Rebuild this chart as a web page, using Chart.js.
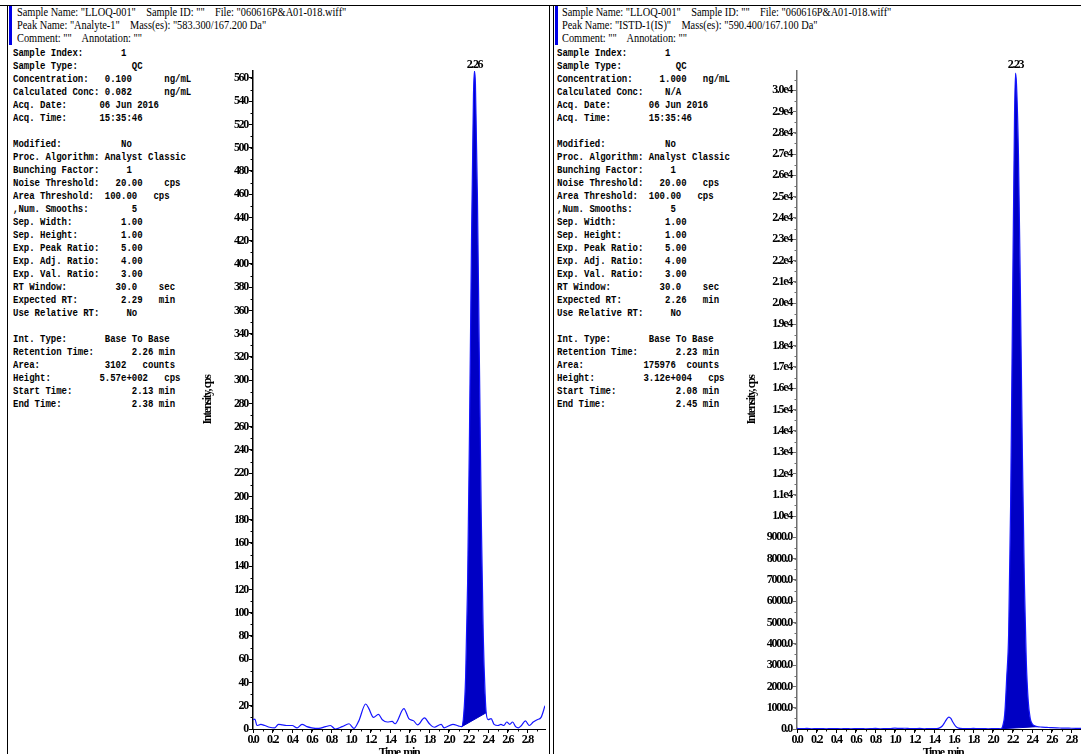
<!DOCTYPE html>
<html>
<head>
<meta charset="utf-8">
<script src="https://cdn.jsdelivr.net/npm/chart.js@4.4.1/dist/chart.umd.min.js"></script>
<style>
  html, body { margin: 0; padding: 0; background: #fff; }
  body { width: 1081px; height: 754px; overflow: hidden; position: relative; }
  .rule { position: absolute; background: #000; }
  .bar { position: absolute; background: #0000e6; }
  .hdr {
    position: absolute; margin: 0;
    font-family: 'Liberation Serif', 'Times New Roman', serif;
    font-size: 11.5px; line-height: 13px; white-space: pre; color: #000;
    transform: scaleX(0.9); transform-origin: 0 0;
  }
  .params {
    position: absolute; margin: 0;
    font-family: 'Liberation Mono', 'Courier New', monospace;
    font-weight: bold; font-size: 10px; line-height: 13px; white-space: pre; color: #000;
    transform: scaleX(0.9); transform-origin: 0 0;
  }
  canvas { position: absolute; }
</style>
</head>
<body>
<!-- report frame -->
<div class="rule" style="left:0;top:5px;width:1081px;height:1px"></div>
<div class="rule" style="left:7px;top:5px;width:1px;height:749px"></div>
<div class="rule" style="left:549px;top:5px;width:1px;height:749px"></div>
<div class="rule" style="left:553px;top:5px;width:1px;height:749px"></div>
<div class="bar" style="left:9px;top:6px;width:3px;height:39px"></div>
<div class="bar" style="left:555px;top:6px;width:3px;height:39px"></div>

<pre class="hdr" style="left:17px;top:6px">Sample Name: "LLOQ-001"    Sample ID: ""    File: "060616P&amp;A01-018.wiff"
Peak Name: "Analyte-1"    Mass(es): "583.300/167.200 Da"
Comment: ""    Annotation: ""</pre>

<pre class="hdr" style="left:562px;top:6px">Sample Name: "LLOQ-001"    Sample ID: ""    File: "060616P&amp;A01-018.wiff"
Peak Name: "ISTD-1(IS)"    Mass(es): "590.400/167.100 Da"
Comment: ""    Annotation: ""</pre>

<pre class="params" style="left:13px;top:47px">Sample Index:       1
Sample Type:          QC
Concentration:   0.100      ng/mL
Calculated Conc: 0.082      ng/mL
Acq. Date:      06 Jun 2016
Acq. Time:      15:35:46

Modified:           No
Proc. Algorithm: Analyst Classic
Bunching Factor:     1
Noise Threshold:   20.00    cps
Area Threshold:  100.00   cps
,Num. Smooths:        5
Sep. Width:         1.00
Sep. Height:        1.00
Exp. Peak Ratio:    5.00
Exp. Adj. Ratio:    4.00
Exp. Val. Ratio:    3.00
RT Window:         30.0    sec
Expected RT:        2.29   min
Use Relative RT:     No

Int. Type:       Base To Base
Retention Time:       2.26 min
Area:            3102   counts
Height:         5.57e+002   cps
Start Time:           2.13 min
End Time:             2.38 min</pre>

<pre class="params" style="left:557px;top:47px">Sample Index:       1
Sample Type:          QC
Concentration:     1.000   ng/mL
Calculated Conc:    N/A
Acq. Date:       06 Jun 2016
Acq. Time:       15:35:46

Modified:           No
Proc. Algorithm: Analyst Classic
Bunching Factor:     1
Noise Threshold:   20.00   cps
Area Threshold:  100.00   cps
,Num. Smooths:       5
Sep. Width:         1.00
Sep. Height:        1.00
Exp. Peak Ratio:    5.00
Exp. Adj. Ratio:    4.00
Exp. Val. Ratio:    3.00
RT Window:         30.0    sec
Expected RT:        2.26   min
Use Relative RT:     No

Int. Type:       Base To Base
Retention Time:       2.23 min
Area:           175976  counts
Height:         3.12e+004   cps
Start Time:           2.08 min
End Time:             2.45 min</pre>

<canvas id="chartAnalyte" width="355" height="720" style="left:195px;top:55px"></canvas>
<canvas id="chartISTD" width="354" height="720" style="left:740px;top:55px"></canvas>

<script>
// ---- Analyte-1 (583.3/167.2) extracted ion chromatogram ----
const analyteTime = [0.00,0.02,0.04,0.08,0.12,0.17,0.22,0.26,0.30,0.34,0.40,0.45,0.50,0.55,0.60,0.67,0.74,0.79,0.84,0.91,0.98,1.03,1.08,1.15,1.18,1.23,1.28,1.32,1.37,1.42,1.45,1.54,1.59,1.64,1.68,1.75,1.80,1.85,1.92,1.95,2.04,2.10,2.13,2.15,2.17,2.19,2.21,2.23,2.25,2.26,2.27,2.29,2.31,2.33,2.35,2.37,2.38,2.40,2.43,2.46,2.50,2.53,2.56,2.59,2.62,2.65,2.68,2.71,2.74,2.78,2.82,2.86,2.90,2.94,2.98];
const analyteIntensity = [8,8.5,3,4,3,1.5,1,4,3.5,3,3,1,4,2,1,0.5,2,3,0,2,4.5,0.5,7,21.5,18,10,12.5,8,6,6.5,4.5,17.5,9,7,3.5,9.5,4.5,1.5,4,1,4,2.5,2,12,45,125,260,420,545,566,555,460,320,180,80,28,14,8,9,4,3,4,3,6,4,6,2,1,3,7,3,6,8,10,20];
const analytePeak = { rt: 2.26, start: 2.13, end: 2.38 };
const analyteBaseline = [2, 14];          // integration baseline at start / end
const analyteAxisMax = 566;

// ---- ISTD-1(IS) (590.4/167.1) extracted ion chromatogram ----
const istdTime = [0.00,0.05,0.10,0.15,0.20,0.25,0.30,0.35,0.40,0.45,0.50,0.55,0.60,0.65,0.70,0.75,0.80,0.85,0.90,0.95,1.00,1.05,1.10,1.15,1.20,1.25,1.30,1.35,1.40,1.45,1.48,1.51,1.53,1.55,1.57,1.59,1.62,1.65,1.70,1.75,1.80,1.85,1.90,1.95,2.00,2.04,2.08,2.10,2.12,2.14,2.16,2.18,2.20,2.22,2.23,2.24,2.26,2.28,2.30,2.32,2.34,2.36,2.38,2.40,2.42,2.45,2.50,2.55,2.60,2.65,2.70,2.75,2.80,2.85,2.90,2.95,2.98];
const istdIntensity = [30,15,25,10,20,15,10,20,15,10,20,10,15,20,10,15,25,10,15,20,40,25,35,20,15,25,10,20,15,40,130,330,480,560,500,330,120,40,20,15,25,15,20,10,15,20,10,150,700,2400,4500,10500,20000,28800,30800,30300,27000,20500,13000,7000,3200,1300,500,250,160,110,90,75,60,50,45,40,35,30,25,22,20];
const istdPeak = { rt: 2.23, start: 2.08, end: 2.45 };
const istdBaseline = [10, 110];
const istdAxisMax = 30900;

const timeMax = 2.98;
const timeStep = 0.2;

const TICK_FONT = { family: "'Liberation Serif', 'Times New Roman', serif", size: 12, weight: 'bold' };
const TITLE_FONT = { family: "'Liberation Serif', 'Times New Roman', serif", size: 12, weight: 'bold' };

// condensed report lettering for everything drawn on the canvas
const condensedText = {
  id: 'condensedText',
  beforeDraw(chart) { chart.ctx.letterSpacing = '-1.3px'; }
};

// labelled ticks on exact multiples of the step, never stretched to the axis end
function evenTicks(step) {
  return function (scale) {
    const out = [];
    for (let i = 0; i * step <= scale.max + 1e-9; i++) out.push({ value: +(i * step).toFixed(6) });
    scale.ticks = out;
  };
}

// short unlabeled ticks between the labelled ones
const minorTicks = {
  id: 'minorTicks',
  afterDraw(chart, args, opts) {
    const { ctx } = chart;
    const xs = chart.scales.x, ys = chart.scales.y;
    ctx.save();
    ctx.lineWidth = 1;
    ctx.beginPath();
    ctx.strokeStyle = opts.yColor;
    for (let i = 0; i * opts.yStep <= ys.max + 1e-9; i++) {
      const py = Math.round(ys.getPixelForValue(i * opts.yStep)) + 0.5;
      ctx.moveTo(ys.right - 2.5, py); ctx.lineTo(ys.right, py);
    }
    ctx.stroke();
    ctx.beginPath();
    ctx.strokeStyle = '#000';
    for (let i = 0; i * opts.xStep <= xs.max + 1e-9; i++) {
      const px = Math.round(xs.getPixelForValue(i * opts.xStep)) + 0.5;
      ctx.moveTo(px, xs.top); ctx.lineTo(px, xs.top + 2.5);
    }
    ctx.stroke();
    ctx.restore();
  }
};

// retention-time label above the apex
const peakLabel = {
  id: 'peakLabel',
  afterDatasetsDraw(chart, args, opts) {
    const { ctx, chartArea } = chart;
    const x = chart.scales.x.getPixelForValue(opts.rt);
    ctx.save();
    ctx.font = "bold 12px 'Liberation Serif', 'Times New Roman', serif";
    ctx.letterSpacing = '-1.4px';
    ctx.fillStyle = '#000';
    ctx.textAlign = 'center';
    ctx.textBaseline = 'middle';
    ctx.fillText(opts.rt.toFixed(2), x, chartArea.top - 6);
    ctx.restore();
  }
};

function buildChromatogram(canvasId, d) {
  const trace = d.time.map((t, i) => ({ x: t, y: d.intensity[i] }));
  const peakArea = trace.filter(p => p.x >= d.peak.start - 1e-9 && p.x <= d.peak.end + 1e-9);
  const baseline = [{ x: d.peak.start, y: d.baseline[0] }, { x: d.peak.end, y: d.baseline[1] }];

  return new Chart(document.getElementById(canvasId), {
    type: 'line',
    data: {
      datasets: [
        { data: trace, borderColor: '#1414ff', borderWidth: 1.2, pointRadius: 0,
          cubicInterpolationMode: 'monotone', fill: false },
        { data: peakArea, borderColor: '#0000c4', borderWidth: 0, pointRadius: 0,
          cubicInterpolationMode: 'monotone', backgroundColor: '#0000c4', fill: 2 },
        { data: baseline, borderColor: '#0000c4', borderWidth: 1, pointRadius: 0, fill: false }
      ]
    },
    options: {
      responsive: false,
      animation: false,
      devicePixelRatio: 1,
      layout: { padding: { top: 16, right: 5, left: 0, bottom: 0 } },
      plugins: {
        legend: { display: false },
        tooltip: { enabled: false },
        minorTicks: { xStep: 0.1, yStep: d.minorStep, yColor: d.axisColor },
        peakLabel: { rt: d.peak.rt }
      },
      scales: {
        x: {
          type: 'linear', min: 0, max: timeMax,
          afterBuildTicks: evenTicks(timeStep),
          afterFit(s) { s.height = 46; },
          border: { display: true, color: '#000', width: 1 },
          grid: { display: true, drawOnChartArea: false, drawTicks: true, tickLength: 4, color: '#000' },
          ticks: { autoSkip: false, maxRotation: 0, padding: 0,
                   color: '#000', font: TICK_FONT, callback: v => v.toFixed(1) },
          title: { display: true, text: 'Time, min', color: '#000', font: TITLE_FONT,
                   padding: { top: 0, bottom: 15 } }
        },
        y: {
          type: 'linear', min: 0, max: d.axisMax,
          afterBuildTicks: evenTicks(d.majorStep),
          afterFit(s) { s.width = d.axisWidth; },
          border: { display: true, color: d.axisColor, width: 1.5 },
          grid: { display: true, drawOnChartArea: false, drawTicks: true, tickLength: 4, color: d.axisColor },
          ticks: { autoSkip: false, padding: 1,
                   color: '#000', font: TICK_FONT, callback: d.format },
          title: { display: true, text: 'Intensity, cps', color: '#000', font: TITLE_FONT,
                   padding: { top: d.titlePad, bottom: 0 } }
        }
      }
    },
    plugins: [condensedText, minorTicks, peakLabel]
  });
}

buildChromatogram('chartAnalyte', {
  time: analyteTime, intensity: analyteIntensity, peak: analytePeak, baseline: analyteBaseline,
  axisMax: analyteAxisMax, majorStep: 20, minorStep: 10, axisWidth: 58, titlePad: 6, axisColor: '#000',
  format: v => String(v)
});

buildChromatogram('chartISTD', {
  time: istdTime, intensity: istdIntensity, peak: istdPeak, baseline: istdBaseline,
  axisMax: istdAxisMax, majorStep: 1000, minorStep: 500, axisWidth: 57, titlePad: 5, axisColor: '#6e6e6e',
  format: v => v < 10000 ? v.toFixed(1) : (v / 10000).toFixed(1) + 'e4'
});
</script>
</body>
</html>
